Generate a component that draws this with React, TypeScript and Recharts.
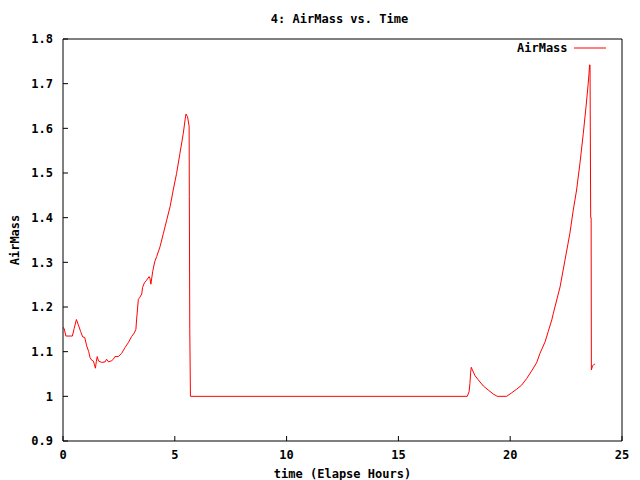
import { Legend, Line, LineChart, XAxis, YAxis } from "recharts";

const TIME = [
  0, 0.05, 0.13, 0.42, 0.5, 0.6, 0.68, 0.79, 0.88, 0.97, 1.06, 1.15, 1.21, 1.28, 1.36, 1.4,
  1.45, 1.49, 1.53, 1.59, 1.73, 1.88, 1.95, 2.04, 2.18, 2.25, 2.32, 2.47, 2.62, 2.77, 2.92,
  3.07, 3.19, 3.26, 3.29, 3.37, 3.44, 3.52, 3.56, 3.64, 3.74, 3.85, 3.89, 3.93, 4.01, 4.1,
  4.19, 4.34, 4.49, 4.64, 4.79, 4.93, 5.08, 5.23, 5.38, 5.46, 5.5, 5.57, 5.64, 5.65, 5.67,
  5.7, 18.08, 18.16, 18.2, 18.23, 18.26, 18.31, 18.43, 18.57, 18.8, 19.02, 19.25, 19.42,
  19.84, 20.07, 20.29, 20.51, 20.74, 20.96, 21.18, 21.33, 21.56, 21.7, 21.86, 21.93, 22.23,
  22.45, 22.67, 22.82, 22.97, 23.12, 23.27, 23.39, 23.49, 23.52, 23.55, 23.57, 23.6, 23.62,
  23.63, 23.68, 23.76, 23.8,
];

const AIRMASS = [
  1.154, 1.152, 1.135, 1.135, 1.152, 1.172, 1.161, 1.145, 1.133, 1.132, 1.113, 1.1, 1.087,
  1.081, 1.079, 1.072, 1.063, 1.078, 1.089, 1.079, 1.076, 1.077, 1.083, 1.077, 1.08, 1.083,
  1.089, 1.089, 1.096, 1.109, 1.12, 1.134, 1.142, 1.15, 1.171, 1.217, 1.222, 1.229, 1.244,
  1.254, 1.26, 1.268, 1.264, 1.251, 1.279, 1.301, 1.313, 1.335, 1.365, 1.395, 1.425, 1.462,
  1.499, 1.544, 1.589, 1.619, 1.632, 1.626, 1.605, 1.448, 1.151, 1.0, 1.0, 1.01, 1.029,
  1.053, 1.065, 1.059, 1.046, 1.037, 1.023, 1.014, 1.005, 1.0, 1.0, 1.008, 1.016, 1.025,
  1.04, 1.057, 1.075, 1.096, 1.122, 1.145, 1.171, 1.186, 1.245, 1.305, 1.365, 1.417, 1.462,
  1.522, 1.589, 1.648, 1.701, 1.72, 1.742, 1.742, 1.4, 1.4, 1.059, 1.068, 1.072, 1.072,
];

const X_TICKS = [0, 5, 10, 15, 20, 25];
const Y_TICKS = [0.9, 1, 1.1, 1.2, 1.3, 1.4, 1.5, 1.6, 1.7, 1.8];

const FONT = "'DejaVu Sans Mono', 'Liberation Mono', monospace";
const tickStyle = { fill: "#000", fontSize: 12, fontFamily: FONT, fontWeight: "bold" as const };

const data = TIME.map((t, i) => ({ t, airmass: AIRMASS[i] }));

function LegendBox() {
  return (
    <div style={{ display: "flex", alignItems: "center", fontFamily: FONT, fontSize: 12, fontWeight: "bold", color: "#000" }}>
      <span>AirMass</span>
      <svg width={38} height={4} style={{ marginLeft: 6 }}>
        <line x1={0} y1={2} x2={32} y2={2} stroke="#ff0000" strokeWidth={1} />
      </svg>
    </div>
  );
}

export default function App() {
  return (
    <div style={{ position: "absolute", left: 0, top: 0, width: 640, height: 480, background: "#fff" }}>
      <div
        style={{
          position: "absolute",
          left: 339.5,
          top: 12,
          transform: "translateX(-50%)",
          fontFamily: FONT,
          fontSize: 12,
          fontWeight: "bold",
          whiteSpace: "nowrap",
        }}
      >
        4: AirMass vs. Time
      </div>
      <LineChart width={640} height={480} data={data} margin={{ top: 9, right: 0, bottom: 0, left: 0 }}>
        <XAxis
          dataKey="t"
          type="number"
          domain={[0, 25]}
          ticks={X_TICKS}
          height={39}
          stroke="#000"
          tickSize={-5}
          tickMargin={14}
          tick={tickStyle}
          label={{ value: "time (Elapse Hours)", position: "insideBottom", offset: 2, style: tickStyle }}
        />
        <XAxis
          xAxisId="top"
          orientation="top"
          dataKey="t"
          type="number"
          domain={[0, 25]}
          ticks={X_TICKS}
          height={30}
          stroke="#000"
          tickSize={-5}
          tick={false}
        />
        <YAxis
          type="number"
          domain={[0.9, 1.8]}
          ticks={Y_TICKS}
          width={63}
          stroke="#000"
          tickSize={-5}
          tickMargin={15}
          tick={tickStyle}
          tickFormatter={(v: number) => String(v)}
          label={{ value: "AirMass", angle: -90, position: "insideLeft", offset: 15, style: { ...tickStyle, textAnchor: "middle" } }}
        />
        <YAxis
          yAxisId="right"
          orientation="right"
          type="number"
          domain={[0.9, 1.8]}
          ticks={Y_TICKS}
          width={18}
          stroke="#000"
          tickSize={-5}
          tick={false}
        />
        <Legend
          layout="vertical"
          align="center"
          verticalAlign="middle"
          content={<LegendBox />}
          wrapperStyle={{ left: 517, top: 41, width: "auto", height: "auto" }}
        />
        <Line
          type="linear"
          dataKey="airmass"
          stroke="#ff0000"
          strokeWidth={1}
          dot={false}
          activeDot={false}
          isAnimationActive={false}
        />
      </LineChart>
    </div>
  );
}
